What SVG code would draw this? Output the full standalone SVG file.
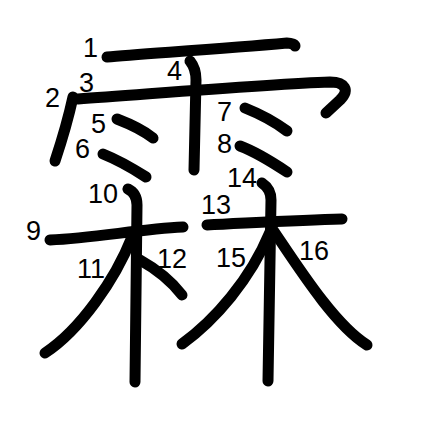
<svg xmlns="http://www.w3.org/2000/svg" width="447" height="447" viewBox="0 0 447 447">
<style>
.s{fill:none;stroke:#000;stroke-width:11;stroke-linecap:round;stroke-linejoin:round}
.n{font-family:"Liberation Sans",Arial,sans-serif;font-size:27px;fill:#000}
</style>
<rect width="447" height="447" fill="#fff"/>
<g id="strokes">
<path id="s1" class="s" d="M107,57 C140,54 220,49 287,43 C292,43 295,45 295,46"/>
<path id="s2" class="s" d="M73,97 C68,120 62,140 55,161"/>
<path id="s3" class="s" d="M78,99 C150,94 270,84 330,82 C345,82 350,90 340,100 L326,113"/>
<path id="s4" class="s" d="M190,61 C194,66 196,72 196,80 L194,170"/>
<path id="s5" class="s" d="M117,119 C130,124 143,130 153,138"/>
<path id="s6" class="s" d="M103,154 C118,160 132,168 146,177"/>
<path id="s7" class="s" d="M245,108 C260,114 275,122 287,131"/>
<path id="s8" class="s" d="M240,146 C256,152 272,162 287,172"/>
<path id="s9" class="s" d="M50,240 C95,238 140,229 183,227"/>
<path id="s10" class="s" d="M128,189 C134,192 137,197 137,205 L135,382"/>
<path id="s11" class="s" d="M132,237 C115,280 80,330 45,353"/>
<path id="s12" class="s" d="M140,260 C158,270 172,282 182,295"/>
<path id="s13" class="s" d="M207,225 C250,223 300,220 342,219"/>
<path id="s14" class="s" d="M262,183 C268,187 271,192 271,200 L268,381"/>
<path id="s15" class="s" d="M270,232 C250,280 215,320 182,344"/>
<path id="s16" class="s" d="M273,230 C300,270 335,325 367,345"/>
</g>
<g id="labels">
<text class="n" x="83" y="57">1</text>
<text class="n" x="45" y="107">2</text>
<text class="n" x="79" y="92">3</text>
<text class="n" x="167" y="80">4</text>
<text class="n" x="91" y="133">5</text>
<text class="n" x="75" y="158">6</text>
<text class="n" x="217" y="121">7</text>
<text class="n" x="217" y="153">8</text>
<text class="n" x="26" y="240">9</text>
<text class="n" x="88" y="203">10</text>
<text class="n" x="77" y="278">11</text>
<text class="n" x="157" y="268">12</text>
<text class="n" x="201" y="214">13</text>
<text class="n" x="227" y="187">14</text>
<text class="n" x="216" y="267">15</text>
<text class="n" x="299" y="260">16</text>
</g>
</svg>
